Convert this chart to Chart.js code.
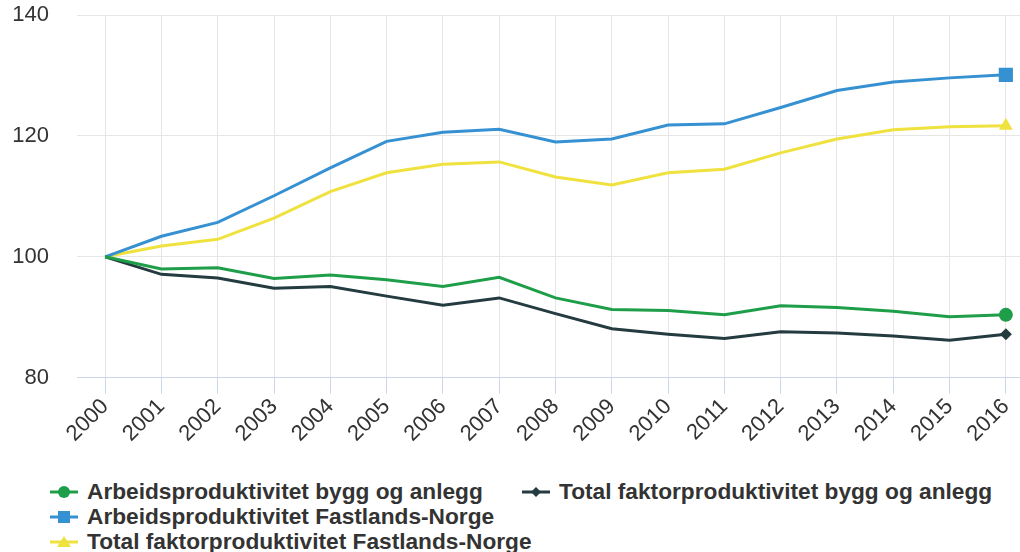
<!DOCTYPE html>
<html lang="no">
<head>
    <meta charset="UTF-8">
    <title>Produktivitet bygg og anlegg</title>
    <script src="https://cdn.jsdelivr.net/npm/chart.js"></script>
    <style>
        html, body {
            margin: 0;
            padding: 0;
            background: #ffffff;
            overflow: hidden;
        }
        .wrap {
            position: relative;
            width: 1020px;
            height: 552px;
            overflow: hidden;
        }
        .chart-box {
            position: absolute;
            left: 0;
            top: 0;
            width: 1044px;
            height: 447px;
        }
        .legend {
            position: absolute;
            left: 50px;
            top: 479px;
            display: grid;
            grid-template-columns: 472px auto;
            row-gap: 0;
            font-family: 'Liberation Sans', Arial, sans-serif;
            font-weight: bold;
            font-size: 22.7px;
            color: #333333;
        }
        .legend .item {
            display: flex;
            align-items: center;
            height: 25px;
            white-space: nowrap;
        }
        .legend .item.wide {
            grid-column: 1 / span 2;
        }
        .legend svg {
            margin-right: 9px;
        }
    </style>
</head>
<body>
<div class="wrap">
    <div class="chart-box"><canvas id="chart"></canvas></div>
    <div class="legend" id="legend"></div>
</div>
<script>
    const years = ['2000', '2001', '2002', '2003', '2004', '2005', '2006', '2007', '2008',
                   '2009', '2010', '2011', '2012', '2013', '2014', '2015', '2016'];

    const arbeidBygg = [100, 98.0, 98.2, 96.4, 97.0, 96.2, 95.1, 96.6, 93.2,
                        91.3, 91.1, 90.4, 91.9, 91.6, 91.0, 90.1, 90.4];
    const tfpBygg = [100, 97.1, 96.5, 94.8, 95.1, 93.5, 92.0, 93.2, 90.6,
                     88.1, 87.2, 86.5, 87.6, 87.4, 86.9, 86.2, 87.2];
    const arbeidFastland = [100, 103.4, 105.7, 110.1, 114.7, 119.1, 120.6, 121.1, 119.0,
                            119.5, 121.8, 122.0, 124.7, 127.5, 128.9, 129.6, 130.1];
    const tfpFastland = [100, 101.8, 102.9, 106.4, 110.8, 113.9, 115.3, 115.7, 113.2,
                         111.9, 113.9, 114.5, 117.2, 119.5, 121.0, 121.5, 121.7];

    const seriesNames = [
        'Arbeidsproduktivitet bygg og anlegg',
        'Total faktorproduktivitet bygg og anlegg',
        'Arbeidsproduktivitet Fastlands-Norge',
        'Total faktorproduktivitet Fastlands-Norge'
    ];
    const seriesData = [arbeidBygg, tfpBygg, arbeidFastland, tfpFastland];
    const seriesColors = ['#1f9e49', '#243b40', '#3591d1', '#efe23f'];
    const markerStyles = ['circle', 'rectRot', 'rect', 'triangle'];
    const markerSizes = [7, 6, 10, 8];

    const yTicks = [80, 100, 120, 140];

    const fontFamily = "'Liberation Sans', Arial, sans-serif";
    const lastIndex = years.length - 1;

    const datasets = seriesData.map((values, i) => ({
        label: seriesNames[i],
        data: values,
        borderColor: seriesColors[i],
        backgroundColor: seriesColors[i],
        borderWidth: 3,
        tension: 0,
        fill: false,
        pointStyle: markerStyles[i],
        pointRadius: ctx => ctx.dataIndex === lastIndex ? markerSizes[i] : 0,
        pointHoverRadius: ctx => ctx.dataIndex === lastIndex ? markerSizes[i] : 0,
        pointBorderWidth: 0,
        pointBackgroundColor: seriesColors[i]
    }));

    new Chart(document.getElementById('chart'), {
        type: 'line',
        data: {
            labels: years,
            datasets: datasets
        },
        options: {
            responsive: true,
            maintainAspectRatio: false,
            animation: false,
            layout: {
                padding: 0
            },
            plugins: {
                legend: { display: false },
                tooltip: { enabled: false }
            },
            scales: {
                x: {
                    offset: true,
                    grid: {
                        offset: false,
                        color: '#e6e6e6',
                        lineWidth: 1,
                        drawTicks: true,
                        tickLength: 16,
                        tickColor: '#ccd6eb'
                    },
                    border: {
                        display: true,
                        color: '#ccd6eb',
                        width: 1
                    },
                    ticks: {
                        minRotation: 45,
                        maxRotation: 45,
                        padding: 0,
                        color: '#333333',
                        font: { family: fontFamily, size: 22 }
                    }
                },
                y: {
                    min: 80,
                    max: 140,
                    afterBuildTicks: axis => {
                        axis.ticks = yTicks.map(v => ({ value: v }));
                    },
                    afterFit: axis => {
                        // keep the plot edges where the original has them
                        axis.width = 77;
                        axis.paddingTop = 15;
                        axis.paddingBottom = 0;
                    },
                    grid: {
                        color: '#e6e6e6',
                        lineWidth: 1,
                        drawTicks: false
                    },
                    border: { display: false },
                    ticks: {
                        padding: 28,
                        color: '#333333',
                        font: { family: fontFamily, size: 22 }
                    }
                }
            }
        }
    });

    // legend in the same layout as the original (two columns on the first row)
    function markerSvg(i) {
        const c = seriesColors[i];
        let shape = '';
        if (markerStyles[i] === 'circle') {
            shape = `<circle cx="14" cy="10" r="6" fill="${c}"/>`;
        } else if (markerStyles[i] === 'rectRot') {
            shape = `<polygon points="14,5 19,10 14,15 9,10" fill="${c}"/>`;
        } else if (markerStyles[i] === 'rect') {
            shape = `<rect x="8" y="4" width="12" height="12" fill="${c}"/>`;
        } else {
            shape = `<polygon points="14,4 21,15 7,15" fill="${c}"/>`;
        }
        return `<svg width="28" height="20" viewBox="0 0 28 20">` +
               `<line x1="0" y1="10" x2="28" y2="10" stroke="${c}" stroke-width="3"/>` +
               shape + `</svg>`;
    }

    const legendEl = document.getElementById('legend');
    seriesNames.forEach((name, i) => {
        const item = document.createElement('div');
        item.className = i >= 2 ? 'item wide' : 'item';
        item.innerHTML = markerSvg(i) + '<span>' + name + '</span>';
        legendEl.appendChild(item);
    });
</script>
</body>
</html>
